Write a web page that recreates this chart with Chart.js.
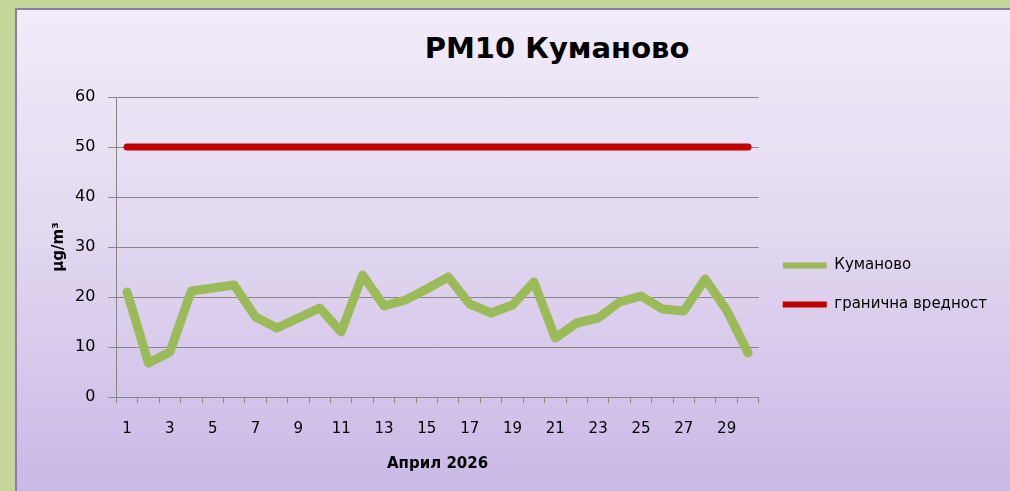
<!DOCTYPE html>
<html>
<head>
<meta charset="utf-8">
<script src="https://cdn.jsdelivr.net/npm/chart.js@4"></script>
<style>
  html,body{margin:0;padding:0;}
  body{width:1010px;height:491px;background:#c4d79b;overflow:hidden;position:relative;font-family:"DejaVu Sans",sans-serif;}
  #panel{position:absolute;left:15px;top:8px;width:1010px;height:500px;
    border-left:2px solid #8c7bb0;border-top:2px solid #8c7bb0;border-radius:0 10px 0 0;
    background:linear-gradient(to bottom,#f2ecf9 0%,#e2d8f0 45%,#c9b6e6 100%);}
  #title{position:absolute;left:0;width:1010px;top:31px;text-align:center;padding-left:104px;box-sizing:border-box;
    font:bold 29px "DejaVu Sans",sans-serif;color:#000;}
  #wrap{position:absolute;left:17px;top:10px;width:993px;height:481px;}
</style>
</head>
<body>
<div id="panel"></div>
<div id="title">PM10 Куманово</div>
<div id="wrap"><canvas id="chart"></canvas></div>
<script>
const days = ["1","2","3","4","5","6","7","8","9","10","11","12","13","14","15","16","17","18","19","20","21","22","23","24","25","26","27","28","29","30"];
const kumanovo = [21,6.8,9,21.2,21.8,22.4,16,13.8,15.8,17.8,13,24.4,18.2,19.4,21.6,24,18.6,16.8,18.4,23,11.8,14.8,15.8,19,20.2,17.6,17.2,23.6,17.4,8.8];
const limitValue = [50,50,50,50,50,50,50,50,50,50,50,50,50,50,50,50,50,50,50,50,50,50,50,50,50,50,50,50,50,50];
const seriesNames = ["Куманово","гранична вредност"];

const ctx = document.getElementById("chart").getContext("2d");
const fontFam = "'DejaVu Sans', sans-serif";

new Chart(ctx,{
  type:"line",
  data:{
    labels:days,
    datasets:[
      {label:seriesNames[0], data:kumanovo, borderColor:"#9bbb59", backgroundColor:"#9bbb59",
        borderWidth:9, pointRadius:0, tension:0, borderJoinStyle:"round", borderCapStyle:"round"},
      {label:seriesNames[1], data:limitValue, borderColor:"#c00000", backgroundColor:"#c00000",
        borderWidth:7, pointRadius:0, tension:0, borderCapStyle:"round"}
    ]
  },
  options:{
    responsive:true, maintainAspectRatio:false, animation:false,
    layout:{padding:{top:87, right:15, bottom:18, left:33}},
    plugins:{
      title:{display:false},
      tooltip:{enabled:false},
      legend:{
        position:"right", align:"center",
        labels:{
          boxWidth:44, boxHeight:6, padding:24, color:"#000",
          font:{family:fontFam, size:15},
          useBorderRadius:true, borderRadius:3,
          generateLabels:(chart)=>chart.data.datasets.map((d,i)=>({
            text:d.label, fillStyle:d.borderColor, strokeStyle:d.borderColor, lineWidth:0, datasetIndex:i
          }))
        }
      }
    },
    scales:{
      x:{
        offset:true,
        grid:{display:true, drawOnChartArea:false, drawTicks:true, tickLength:6, color:"#868686", offset:true},
        border:{color:"#868686", width:1},
        ticks:{autoSkip:false, maxRotation:0, color:"#000", font:{family:fontFam, size:15}, padding:17,
          callback:function(v,i){ return i%2===0 ? this.getLabelForValue(v) : ""; }},
        title:{display:true, text:"Април 2026", color:"#000", font:{family:fontFam, size:15, weight:"bold"}, padding:{top:0, bottom:0}}
      },
      y:{
        min:0, max:60,
        grid:{color:"#868686", lineWidth:1, tickLength:8},
        border:{color:"#868686", width:1},
        ticks:{stepSize:10, color:"#000", font:{family:fontFam, size:16}, padding:13},
        title:{display:true, text:"μg/m³", color:"#000", font:{family:fontFam, size:15, weight:"bold"}, padding:{top:0, bottom:-6}}
      }
    }
  }
});
</script>
</body>
</html>
